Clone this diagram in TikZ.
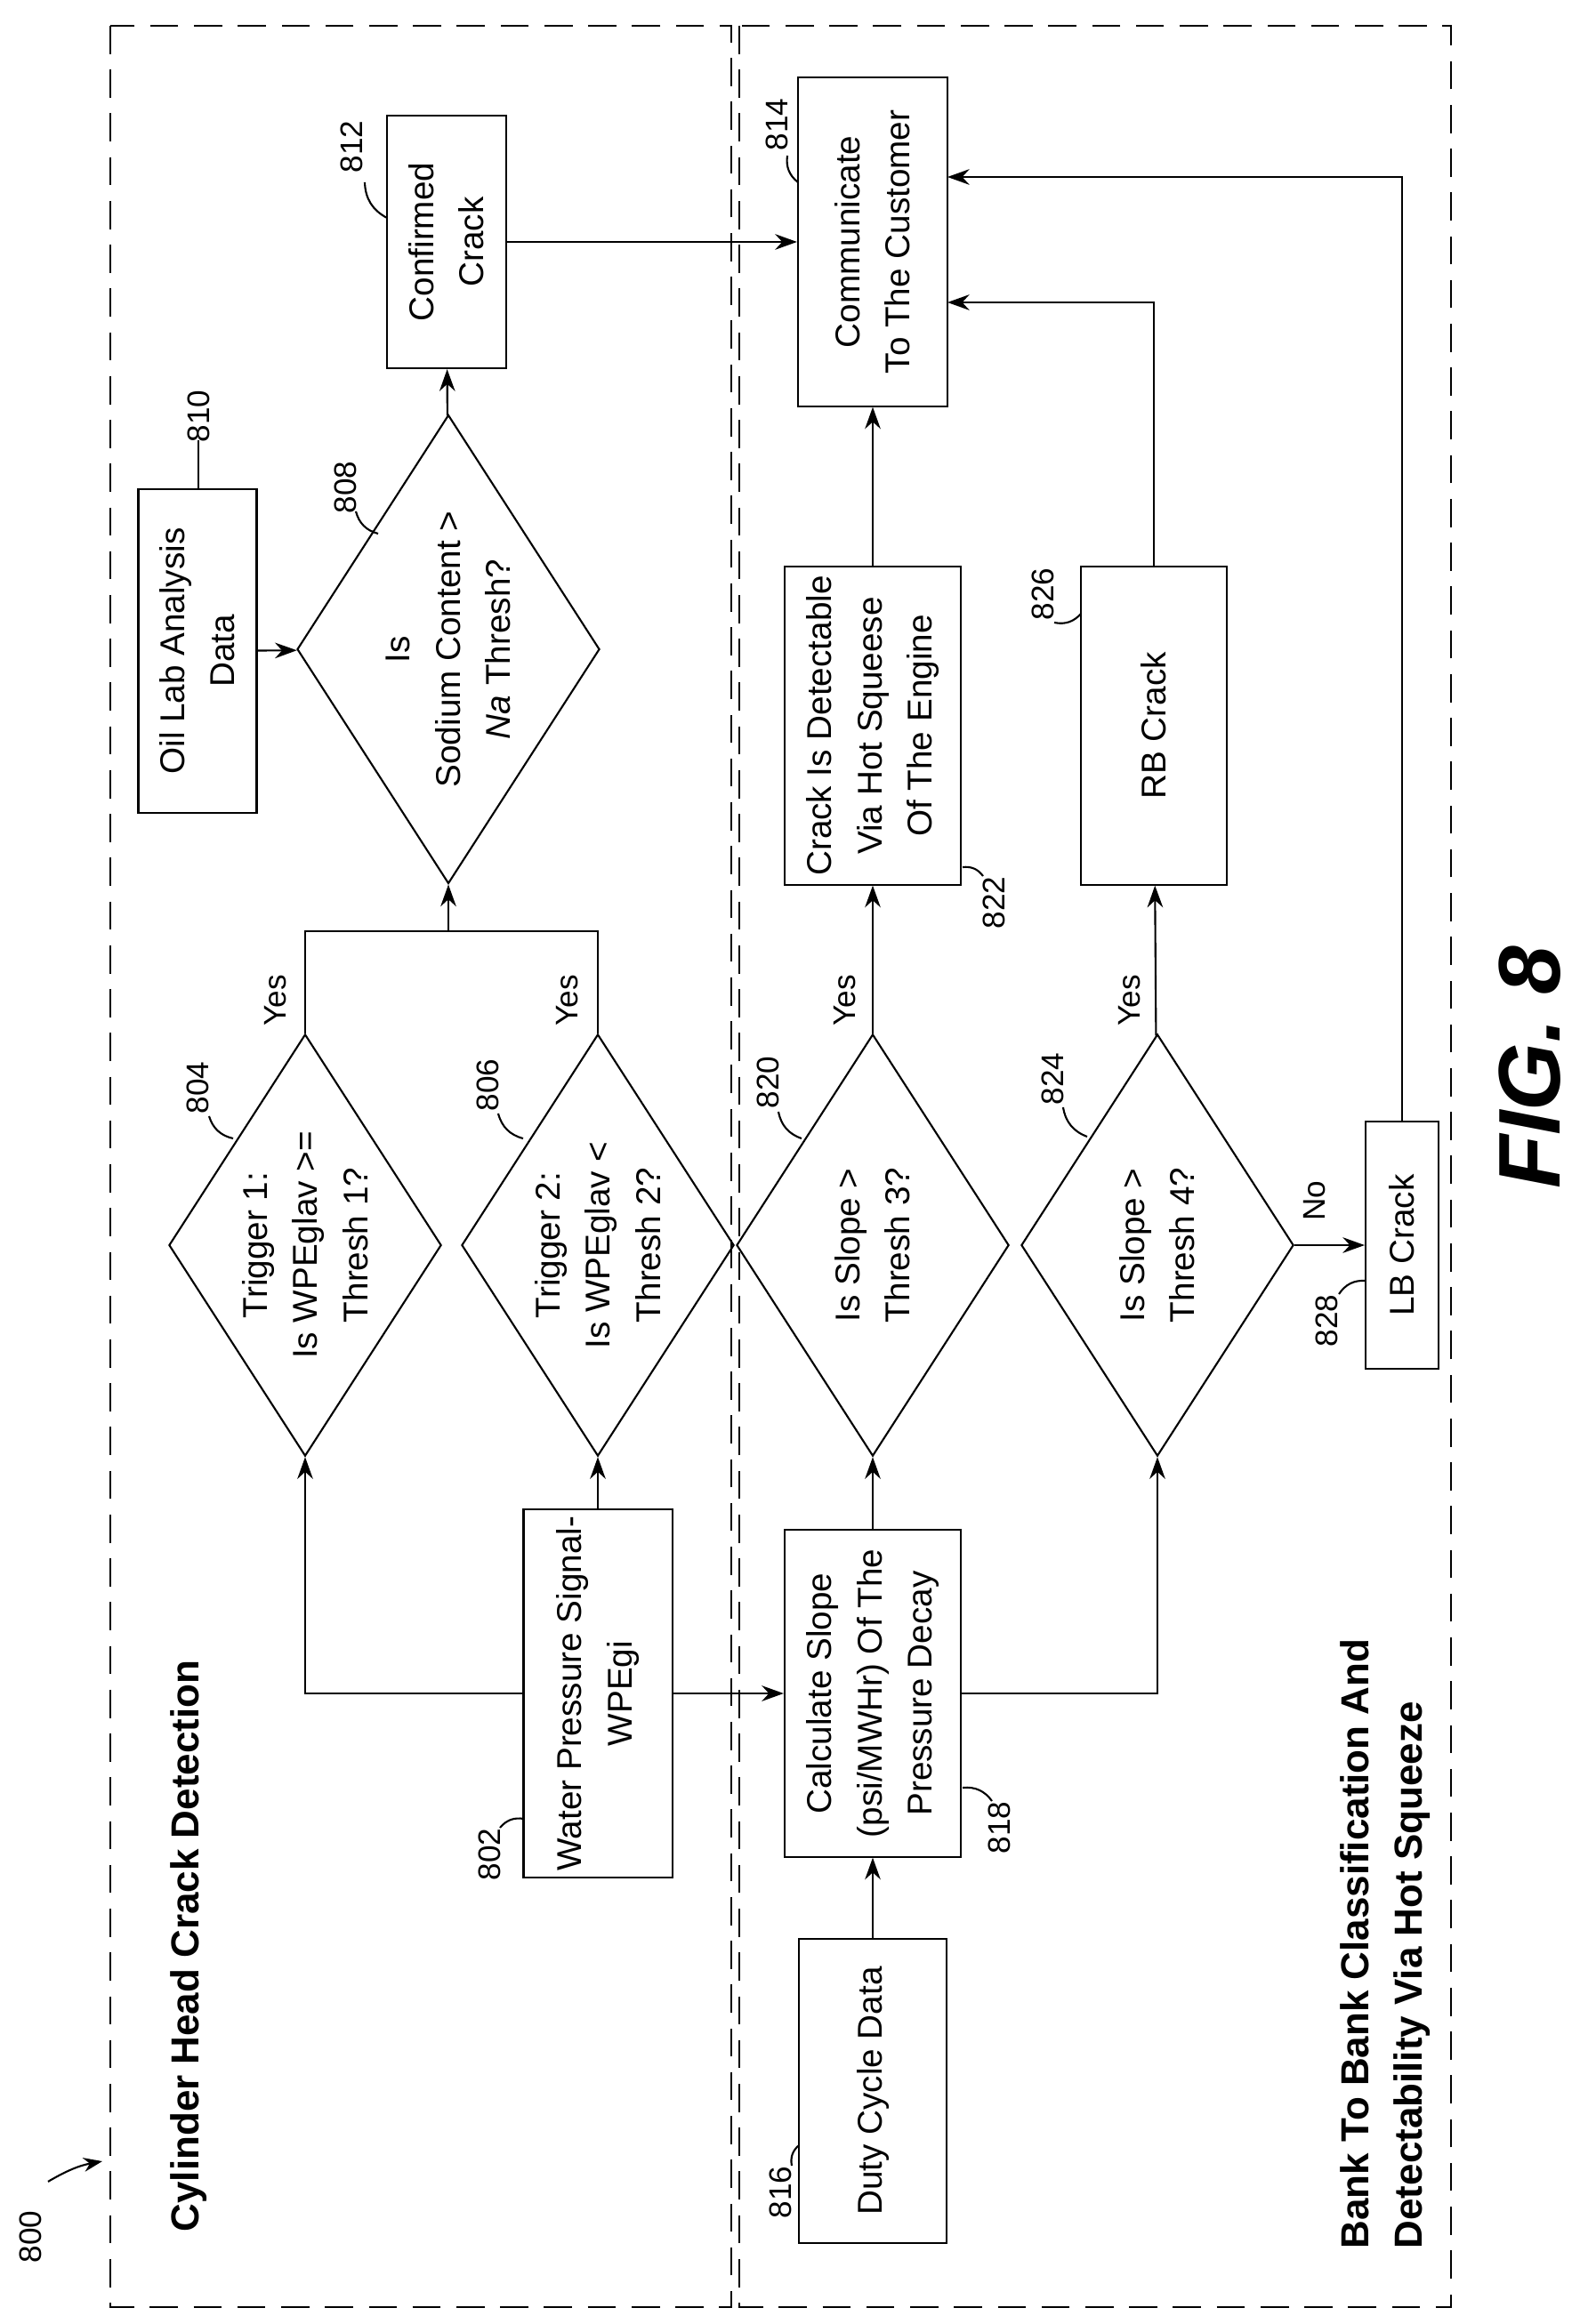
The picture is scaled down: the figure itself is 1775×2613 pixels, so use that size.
\documentclass[tikz,border=0pt]{standalone}
\usepackage{fontspec}
\setmainfont{Liberation Sans}
\usetikzlibrary{shapes.geometric,arrows.meta}
\tikzset{
  blk/.style={draw,rectangle,rotate=90,align=center,inner sep=2pt,
    font=\fontsize{11}{16}\selectfont},
  dec/.style={draw,diamond,rotate=90,align=center,inner sep=0pt,
    minimum width=4.74cm,minimum height=3.06cm,aspect=1.55,
    font=\fontsize{11}{16}\selectfont},
  lbl/.style={rotate=90,font=\fontsize{10}{12}\selectfont},
  zone/.style={dashed,dash pattern=on 9pt off 5pt,thick},
  flow/.style={-{Stealth[length=7pt,width=5pt]}},
}
\begin{document}
\begin{tikzpicture}[x=0.01cm,y=-0.01cm,semithick]
  \useasboundingbox (0,0) rectangle (1775,2613);
  %Zones
  \draw[zone] (124,29) rectangle (822,2594);
  \draw[zone] (831,29) rectangle (1631,2594);
  \node[rotate=90,anchor=west,font=\bfseries\fontsize{12.5}{15}\selectfont]
    (tA) at (212,2522) {Cylinder Head Crack Detection};
  \node[rotate=90,anchor=west,align=left,font=\bfseries\fontsize{12.5}{17}\selectfont]
    (tB) at (1557,2541) {Bank To Bank Classification And\\Detectability Via Hot Squeeze};
  \node[lbl] (l800) at (34,2515) {800};
  \coordinate (c800) at (115,2430);
  \draw[-{Stealth[length=6pt]}] (l800.east) ++(20,-20) to[bend left=10] (c800);

  %Blocks
  \node[blk,minimum width=2.84cm,minimum height=1.34cm] (n812) at (502,272) {Confirmed\\Crack};
  \node[blk,minimum width=3.69cm,minimum height=1.68cm] (n814) at (981,272) {Communicate\\To The Customer};
  \node[blk,minimum width=3.64cm,minimum height=1.33cm] (n810) at (222,732) {Oil Lab Analysis\\Data};
  \node[dec,minimum width=4.66cm,minimum height=3.10cm] (n808) at (504,730) {Is\\Sodium Content >\\\textit{Na} Thresh?};
  \node[blk,minimum width=3.57cm,minimum height=1.98cm] (n822) at (981,816) {Crack Is Detectable\\Via Hot Squeese\\Of The Engine};
  \node[blk,minimum width=3.57cm,minimum height=1.64cm] (n826) at (1297,816) {RB Crack};
  \node[dec] (n804) at (343,1400) {Trigger 1:\\Is WPEglav >=\\Thresh 1?};
  \node[dec] (n806) at (672,1400) {Trigger 2:\\Is WPEglav <\\Thresh 2?};
  \node[dec] (n820) at (981,1400) {Is Slope >\\Thresh 3?};
  \node[dec] (n824) at (1301,1400) {Is Slope >\\Thresh 4?};
  \node[blk,minimum width=2.77cm,minimum height=0.82cm] (n828) at (1576,1400) {LB Crack};
  \node[blk,minimum width=4.13cm,minimum height=1.67cm] (n802) at (672,1904) {Water Pressure Signal-\\WPEgi};
  \node[blk,minimum width=3.67cm,minimum height=1.98cm] (n818) at (981,1904) {Calculate Slope\\(psi/MWHr) Of The\\Pressure Decay};
  \node[blk,minimum width=3.42cm,minimum height=1.66cm] (n816) at (981,2351) {Duty Cycle Data};

  %Connectors
  \coordinate (j1) at (504,1047);
  \coordinate (c826) at (1065,340);
  \coordinate (c828) at (1065,199);
  \draw[flow] (n802) -| (n804);
  \draw[flow] (n802) -- (n806);
  \draw[flow] (n802) -- (n818);
  \draw[flow] (n816) -- (n818);
  \draw[flow] (n818) -- (n820);
  \draw[flow] (n818) -| (n824);
  \draw (n804) |- (j1);
  \draw (n806) |- (j1);
  \draw[flow] (j1) -- (n808);
  \draw[flow] (n810) -- (n808);
  \draw[flow] (n808) -- (n812);
  \draw[flow] (n812) -- (n814);
  \draw[flow] (n820) -- (n822);
  \draw[flow] (n824) -- (n826);
  \draw[flow] (n824) -- (n828);
  \draw[flow] (n822) -- (n814);
  \draw[flow] (n826) |- (c826);
  \draw[flow] (n828) |- (c828);

  %Labelling
  \node[lbl] (y804) at (310,1125) {Yes};
  \node[lbl] (y806) at (638,1125) {Yes};
  \node[lbl] (y820) at (950,1125) {Yes};
  \node[lbl] (y824) at (1270,1125) {Yes};
  \node[lbl] (no824) at (1478,1350) {No};
  \node[lbl] (l812) at (395,165) {812};
  \draw (410,205) to[bend right=30] (435,245);
  \node[lbl] (l814) at (873,140) {814};
  \draw (885,175) to[bend right=30] (897,205);
  \node[lbl] (l810) at (223,468) {810};
  \draw (223,495) -- (223,550);
  \node[lbl] (l808) at (388,548) {808};
  \draw (400,575) to[bend right=30] (425,600);
  \node[lbl] (l822) at (1117,1015) {822};
  \draw (1105,985) to[bend right=30] (1082,975);
  \node[lbl] (l826) at (1172,668) {826};
  \draw (1185,700) to[bend right=30] (1215,690);
  \node[lbl] (l804) at (222,1223) {804};
  \draw (235,1255) to[bend right=30] (262,1280);
  \node[lbl] (l806) at (548,1220) {806};
  \draw (560,1252) to[bend right=30] (588,1280);
  \node[lbl] (l820) at (863,1217) {820};
  \draw (875,1250) to[bend right=30] (901,1280);
  \node[lbl] (l824) at (1183,1213) {824};
  \draw (1195,1245) to[bend right=30] (1222,1278);
  \node[lbl] (l828) at (1491,1485) {828};
  \draw (1505,1455) to[bend left=30] (1535,1440);
  \node[lbl] (l802) at (550,2085) {802};
  \draw (562,2055) to[bend left=30] (589,2045);
  \node[lbl] (l818) at (1123,2055) {818};
  \draw (1115,2025) to[bend right=30] (1082,2010);
  \node[lbl] (l816) at (877,2465) {816};
  \draw (890,2435) to[bend left=30] (898,2412);
  \node[rotate=90,font=\bfseries\itshape\fontsize{28}{30}\selectfont] (fig) at (1720,1200) {FIG. 8};
\end{tikzpicture}
\end{document}
